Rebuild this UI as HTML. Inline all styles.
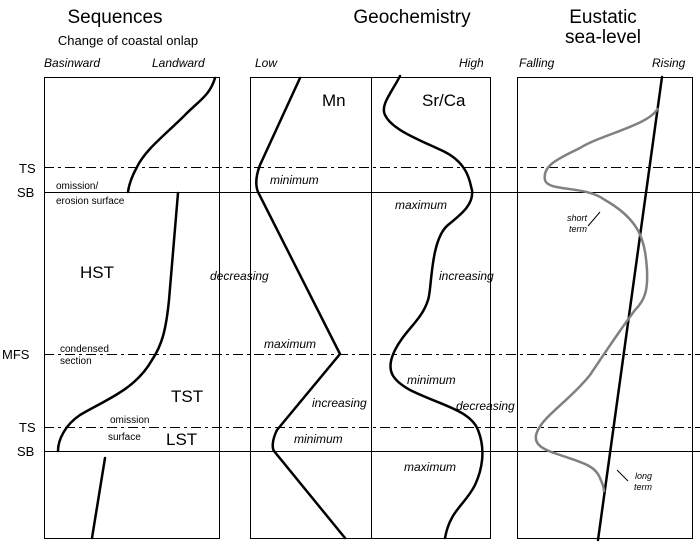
<!DOCTYPE html>
<html><head><meta charset="utf-8"><style>
body{margin:0;background:#fff}
svg{display:block}
text{font-family:"Liberation Sans",Arial,sans-serif;fill:#000}
.i{font-style:italic;font-size:12px}
.s{font-size:10px}
</style></head><body>
<svg width="700" height="547" viewBox="0 0 700 547">
<g fill="none" stroke="#000" stroke-width="1">
<rect x="44.5" y="77.5" width="175" height="461"/>
<rect x="250.5" y="77.5" width="240" height="461"/>
<line x1="371.5" y1="77" x2="371.5" y2="538"/>
<rect x="517.5" y="77.5" width="175" height="461"/>
<g stroke-dasharray="10,4,3,4">
<line x1="44" y1="167.5" x2="700" y2="167.5"/>
<line x1="44" y1="354.5" x2="700" y2="354.5"/>
<line x1="44" y1="427.5" x2="700" y2="427.5"/>
</g>
<line x1="44" y1="192.5" x2="700" y2="192.5"/>
<line x1="44" y1="451.5" x2="700" y2="451.5"/>
</g>
<g fill="none" stroke="#000" stroke-width="2.5" stroke-linecap="round">
<path d="M215,78 C210,95 200,100 185,115 C165,135 145,150 137,167 C132,176 129,184 128,192"/>
<path d="M178,193 L169,300 C166,330 162,345 152,360 C135,390 105,400 80,415 C65,425 58,440 58,451"/>
<path d="M105,458 L92,538"/>
<path d="M300,78 L260,165 C255,178 256,187 258,192 L340,354 L277,430 C272,440 272,448 274,451 L345,538"/>
<path d="M400,76 C392,92 380,105 385,115 C392,130 420,140 445,152 C470,165 470,185 472,190 C474,205 460,215 448,225 C430,240 432,290 428,300 C422,320 405,330 395,350 C385,370 392,380 410,390 C440,405 470,410 478,430 C486,450 482,470 475,485 C465,505 450,510 445,538"/>
<path d="M662,77 L598,540"/>
</g>
<path d="M658,108 C650,125 600,135 580,148 C560,158 542,165 545,180 C548,192 585,185 605,200 C640,220 645,240 647,270 C648,290 645,300 635,310 C620,330 600,360 590,375 C570,400 545,415 538,430 C530,445 545,450 560,455 C580,462 595,465 600,478 C603,485 604,488 604,492" fill="none" stroke="#808080" stroke-width="2.5"/>
<g stroke="#000" stroke-width="1"><line x1="600" y1="212" x2="588" y2="226"/><line x1="617" y1="470" x2="628" y2="481"/></g>

<text x="115" y="23" font-size="19" text-anchor="middle">Sequences</text>
<text x="128" y="45" font-size="13" text-anchor="middle">Change of coastal onlap</text>
<text x="412" y="23" font-size="19" text-anchor="middle">Geochemistry</text>
<text x="603" y="23" font-size="19" text-anchor="middle">Eustatic</text>
<text x="603" y="43" font-size="19" text-anchor="middle">sea-level</text>
<text class="i" x="44" y="67">Basinward</text>
<text class="i" x="152" y="67">Landward</text>
<text class="i" x="255" y="67">Low</text>
<text class="i" x="459" y="67">High</text>
<text class="i" x="519" y="67">Falling</text>
<text class="i" x="652" y="67">Rising</text>
<text x="322" y="106" font-size="17">Mn</text>
<text x="422" y="106" font-size="17">Sr/Ca</text>

<g font-size="13"><text x="19" y="173">TS</text><text x="17" y="197">SB</text><text x="2" y="359">MFS</text><text x="19" y="432">TS</text><text x="17" y="456">SB</text></g>
<text x="56" y="189" class="s">omission/</text>
<text x="56" y="204" class="s">erosion surface</text>
<text x="80" y="278" font-size="17">HST</text>
<text x="60" y="352" class="s">condensed</text>
<text x="60" y="364" class="s">section</text>
<text x="171" y="402" font-size="17">TST</text>
<text x="110" y="423" class="s">omission</text>
<text x="108" y="440" class="s">surface</text>
<text x="166" y="445" font-size="17">LST</text>

<text class="i" x="270" y="184">minimum</text>
<text class="i" x="210" y="280">decreasing</text>
<text class="i" x="264" y="348">maximum</text>
<text class="i" x="312" y="407">increasing</text>
<text class="i" x="294" y="443">minimum</text>
<text class="i" x="395" y="209">maximum</text>
<text class="i" x="439" y="280">increasing</text>
<text class="i" x="407" y="384">minimum</text>
<text class="i" x="456" y="410">decreasing</text>
<text class="i" x="404" y="471">maximum</text>
<text x="567" y="221" font-size="9" font-style="italic">short</text>
<text x="569" y="232" font-size="9" font-style="italic">term</text>
<text x="635" y="479" font-size="9" font-style="italic">long</text>
<text x="634" y="490" font-size="9" font-style="italic">term</text>
</svg>
</body></html>
